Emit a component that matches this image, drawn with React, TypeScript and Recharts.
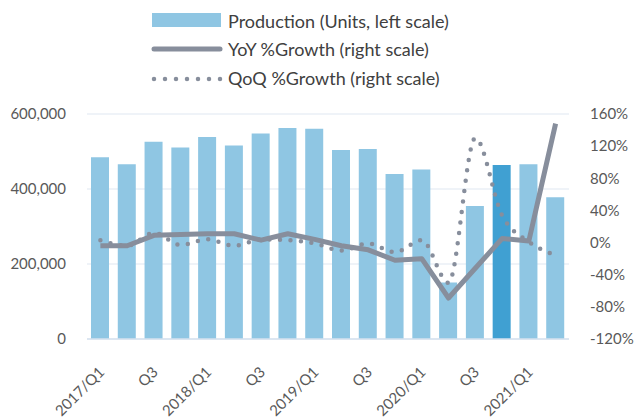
import React from "react";
import { ComposedChart, Bar, Line, XAxis, YAxis, CartesianGrid, Cell } from "recharts";

const categories = [
  "2017/Q1", "2017/Q2", "2017/Q3", "2017/Q4",
  "2018/Q1", "2018/Q2", "2018/Q3", "2018/Q4",
  "2019/Q1", "2019/Q2", "2019/Q3", "2019/Q4",
  "2020/Q1", "2020/Q2", "2020/Q3", "2020/Q4",
  "2021/Q1", "2021/Q2",
];
const tickLabels = [
  "2017/Q1", "", "Q3", "",
  "2018/Q1", "", "Q3", "",
  "2019/Q1", "", "Q3", "",
  "2020/Q1", "", "Q3", "",
  "2021/Q1", "",
];
const production = [
  485000, 466000, 526000, 511000,
  539000, 516000, 548000, 563000,
  561000, 504000, 507000, 440000,
  452000, 151000, 355000, 464000,
  466000, 378000,
];
const yoyGrowth = [
  -4, -4, 9, 10,
  11, 11, 3, 11,
  4, -4, -9, -22,
  -20, -69, -32, 5,
  2, 148,
];
const qoqGrowth = [
  3, -4, 12, -3,
  4, -4, 4, 3,
  -1, -10, -1, -12,
  3, -50, 130, 34,
  1, -16,
];
const highlightIndex = 15;
const leftTicks = [0, 200000, 400000, 600000];
const rightTicks = [-120, -80, -40, 0, 40, 80, 120, 160];

const data = categories.map((c, i) => ({
  cat: c,
  production: production[i],
  yoy: yoyGrowth[i],
  qoq: qoqGrowth[i],
}));

const labelMap: Record<string, string> = {};
categories.forEach((c, i) => (labelMap[c] = tickLabels[i]));

const FONT = "Lato, 'DejaVu Sans', sans-serif";
const BAR = "#8fc6e3";
const BAR_DARK = "#40a0d2";
const LINE = "#878e9c";
const TEXT = "#595959";

const XTick = (props: any) => {
  const { x, y, payload } = props;
  const label = labelMap[payload.value];
  if (!label) return <g />;
  const ax = x + 5;
  const ay = y + 34;
  return (
    <text
      x={ax}
      y={ay}
      transform={`rotate(-45, ${ax}, ${ay})`}
      textAnchor="end"
      fontSize={15}
      fill={TEXT}
      fontFamily={FONT}
    >
      {label}
    </text>
  );
};

const Legend = () => (
  <svg width={635} height={95} style={{ position: "absolute", left: 0, top: 0 }}>
    <rect x={152} y={13} width={69} height={14} fill={BAR} />
    <text x={228} y={28} fontSize={18} fill="#404040" fontFamily={FONT}>
      Production (Units, left scale)
    </text>
    <line x1={154} y1={49} x2={220} y2={49} stroke={LINE} strokeWidth={5} strokeLinecap="round" />
    <text x={228} y={56} fontSize={18} fill="#404040" fontFamily={FONT}>
      YoY %Growth (right scale)
    </text>
    <line
      x1={154}
      y1={79}
      x2={222}
      y2={79}
      stroke={LINE}
      strokeWidth={4.5}
      strokeLinecap="round"
      strokeDasharray="0 11"
    />
    <text x={228} y={85} fontSize={18} fill="#404040" fontFamily={FONT}>
      QoQ %Growth (right scale)
    </text>
  </svg>
);

export default function App() {
  return (
    <div style={{ position: "absolute", left: 0, top: 0, width: 635, height: 418, background: "#fff" }}>
      <ComposedChart
        width={635}
        height={418}
        data={data}
        margin={{ top: 114, right: 0, bottom: 0, left: 0 }}
        barSize={18}
      >
        <CartesianGrid yAxisId="left" vertical={false} stroke="#dfe7f1" strokeWidth={1} />
        <XAxis
          dataKey="cat"
          height={79}
          interval={0}
          tick={<XTick />}
          tickLine={false}
          tickSize={0}
          tickMargin={0}
          axisLine={{ stroke: "#d6e2ef", strokeWidth: 1.5 }}
        />
        <YAxis
          yAxisId="left"
          orientation="left"
          width={87}
          domain={[0, 600000]}
          ticks={leftTicks}
          tickFormatter={(v: number) => v.toLocaleString("en-US")}
          axisLine={false}
          tickLine={false}
          tickSize={0}
          tickMargin={21}
          tick={{ fontSize: 15, fill: TEXT, fontFamily: FONT }}
        />
        <YAxis
          yAxisId="right"
          orientation="right"
          width={66}
          domain={[-120, 160]}
          ticks={rightTicks}
          tickFormatter={(v: number) => `${v}%`}
          axisLine={false}
          tickLine={false}
          tickSize={0}
          tickMargin={21}
          tick={{ fontSize: 15, fill: TEXT, fontFamily: FONT, textAnchor: "start" }}
        />
        <Bar yAxisId="left" dataKey="production" isAnimationActive={false}>
          {data.map((_, i) => (
            <Cell key={i} fill={i === highlightIndex ? BAR_DARK : BAR} />
          ))}
        </Bar>
        <Line
          yAxisId="right"
          dataKey="qoq"
          type="monotone"
          stroke={LINE}
          strokeWidth={4.5}
          strokeLinecap="round"
          strokeDasharray="0 10.5"
          dot={false}
          activeDot={false}
          isAnimationActive={false}
        />
        <Line
          yAxisId="right"
          dataKey="yoy"
          type="linear"
          stroke={LINE}
          strokeWidth={5}
          strokeLinejoin="round"
          dot={false}
          activeDot={false}
          isAnimationActive={false}
        />
      </ComposedChart>
      <Legend />
    </div>
  );
}
